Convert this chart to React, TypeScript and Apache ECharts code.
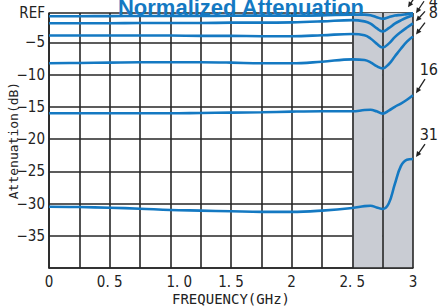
import React, { useEffect, useRef } from 'react';
import * as echarts from 'echarts';

const frequencies = [0, 0.25, 0.5, 0.75, 1.0, 1.25, 1.5, 1.75, 2.0, 2.25, 2.5, 2.6, 2.65, 2.7, 2.75, 2.8, 2.85, 2.9, 2.95, 3.0];

const att1dB = [-0.95, -0.95, -0.93, -0.92, -0.9, -0.9, -0.88, -0.85, -0.85, -0.82, -0.7, -0.7, -0.8, -1.1, -1.35, -1.1, -0.85, -0.75, -0.62, -0.5];
const att2dB = [-2.05, -2.05, -2.05, -2.0, -2.0, -2.0, -1.95, -1.95, -1.9, -1.75, -1.55, -1.75, -2.1, -2.8, -3.3, -2.8, -2.1, -1.6, -1.15, -0.8];
const att4dB = [-3.95, -3.95, -3.95, -3.95, -3.95, -4.0, -4.0, -4.05, -4.05, -3.9, -3.7, -3.9, -4.4, -5.2, -5.8, -5.2, -4.2, -3.4, -2.7, -2.05];
const att8dB = [-8.25, -8.2, -8.15, -8.1, -8.1, -8.1, -8.15, -8.25, -8.25, -8.0, -7.65, -7.75, -8.1, -8.7, -9.05, -8.4, -7.2, -6.0, -4.9, -4.1];
const att16dB = [-16.0, -16.0, -16.0, -16.0, -16.0, -15.95, -15.9, -15.85, -15.75, -15.7, -15.7, -15.5, -15.45, -15.7, -16.05, -15.6, -15.0, -14.5, -13.9, -13.2];
const att31dB = [-30.5, -30.55, -30.65, -30.8, -31.0, -31.1, -31.2, -31.3, -31.3, -31.1, -30.7, -30.4, -30.35, -30.6, -30.85, -30.0, -27.0, -24.2, -23.2, -23.1];

const seriesNames = ['1', '2', '4', '8', '16', '31'];
const seriesValues = [att1dB, att2dB, att4dB, att8dB, att16dB, att31dB];

const xTickValues = [0, 0.5, 1, 1.5, 2, 2.5, 3];
const xTickLabels = ['0', '0. 5', '1. 0', '1. 5', '2', '2. 5', '3'];
const yMin = -40;
const yMax = -0.45;
const yTickValues = [yMax, -5, -10, -15, -20, -25, -30, -35];
const yTickLabels = ['REF', '\u22125', '\u221210', '\u221215', '\u221220', '\u221225', '\u221230', '\u221235'];

// arrow offsets (tip relative to series end, start relative to tip)
const arrowTipOffsets = [[-5, -6], [3, -2], [3, -2], [3, -2], [3, -2], [3, -2]];
const arrowStartOffsets = [[8, -12], [8, -12], [9, -10], [9, -12], [9, -14], [9, -13]];

const BLUE = '#1479c2';
const GRID = '#262626';
const NARROW = "'Liberation Sans Narrow', 'DejaVu Sans Condensed', 'Roboto Condensed', sans-serif";
const MONO = "'DejaVu Sans Mono', 'Liberation Mono', monospace";

export default function App() {
  const ref = useRef<HTMLDivElement>(null);
  useEffect(() => {
    if (!ref.current) return;
    const chart = echarts.init(ref.current, undefined, { renderer: 'svg' });
    const labelBase = { color: '#222', fontSize: 15, fontFamily: NARROW };
    const option: any = {
      animation: false,
      backgroundColor: '#ffffff',
      title: {
        text: 'Normalized Attenuation',
        left: 236,
        textAlign: 'center',
        top: -9,
        textStyle: { color: BLUE, fontSize: 22, fontWeight: 'bold', fontFamily: "'Liberation Sans', Arial, sans-serif" },
      },
      grid: { left: 49, right: 25, top: 13, bottom: 39, containLabel: false, outerBoundsMode: 'none' },
      xAxis: {
        type: 'value',
        min: 0,
        max: 3,
        interval: 0.25,
        name: 'FREQUENCY(GHz)',
        nameLocation: 'middle',
        nameGap: 24,
        nameMoveOverlap: false,
        nameTextStyle: { color: '#222', fontSize: 14, fontFamily: MONO, verticalAlign: 'top' },
        axisLine: { show: true, lineStyle: { color: GRID, width: 1.6 } },
        axisTick: { show: false },
        axisLabel: {
          ...labelBase,
          margin: 6,
          rich: { shift: { ...labelBase, padding: [0, 0, 0, 18] } },
          formatter: (v: number) => {
            const i = xTickValues.findIndex((t) => Math.abs(t - v) < 1e-6);
            if (i < 0) return '';
            return i === 2 ? '{shift|' + xTickLabels[i] + '}' : xTickLabels[i];
          },
        },
        splitLine: { show: true, lineStyle: { color: GRID, width: 1.6 } },
        splitArea: {
          show: true,
          areaStyle: {
            color: [
              'rgba(0,0,0,0)', 'rgba(0,0,0,0)', 'rgba(0,0,0,0)', 'rgba(0,0,0,0)', 'rgba(0,0,0,0)', 'rgba(0,0,0,0)',
              'rgba(0,0,0,0)', 'rgba(0,0,0,0)', 'rgba(0,0,0,0)', 'rgba(0,0,0,0)', '#c9ccd3', '#c9ccd3',
            ],
          },
        },
      },
      yAxis: {
        type: 'value',
        min: yMin,
        max: yMax,
        interval: 5,
        name: 'Attenuation(dB)',
        nameLocation: 'middle',
        nameGap: 29,
        nameMoveOverlap: false,
        nameTextStyle: { color: '#222', fontSize: 13, fontFamily: MONO },
        axisLine: { show: true, lineStyle: { color: GRID, width: 1.6 } },
        axisTick: { show: false },
        axisLabel: {
          ...labelBase,
          margin: 4,
          showMinLabel: false,
          formatter: (v: number) => {
            const i = yTickValues.findIndex((t) => Math.abs(t - v) < 1e-6);
            return i >= 0 ? yTickLabels[i] : '';
          },
        },
        splitLine: { show: true, lineStyle: { color: GRID, width: 1.6 } },
      },
      series: seriesValues.map((vals, k) => ({
        name: seriesNames[k],
        type: 'line',
        smooth: 0.4,
        symbol: 'none',
        lineStyle: { color: BLUE, width: 2.6 },
        data: frequencies.map((f, i) => [f, vals[i]]),
      })),
    };
    chart.setOption(option);

    const graphics: any[] = [];
    seriesValues.forEach((vals, k) => {
      const end = chart.convertToPixel({ gridIndex: 0 }, [frequencies[frequencies.length - 1], vals[vals.length - 1]]) as number[];
      const tip = [end[0] + arrowTipOffsets[k][0], end[1] + arrowTipOffsets[k][1]];
      const start = [tip[0] + arrowStartOffsets[k][0], tip[1] + arrowStartOffsets[k][1]];
      const dx = tip[0] - start[0];
      const dy = tip[1] - start[1];
      const len = Math.sqrt(dx * dx + dy * dy);
      const ux = dx / len;
      const uy = dy / len;
      const L = 5.5;
      const W = 2.6;
      const base = [tip[0] - L * ux, tip[1] - L * uy];
      graphics.push({
        type: 'line',
        shape: { x1: start[0], y1: start[1], x2: base[0] + ux, y2: base[1] + uy },
        style: { stroke: '#222', lineWidth: 1.3 },
        z: 100,
      });
      graphics.push({
        type: 'polygon',
        shape: { points: [tip, [base[0] - W * uy, base[1] + W * ux], [base[0] + W * uy, base[1] - W * ux]] },
        style: { fill: '#222' },
        z: 100,
      });
      graphics.push({
        type: 'text',
        x: start[0] + 13,
        y: start[1] - 2,
        style: {
          text: seriesNames[k],
          fill: '#222',
          fontSize: 16,
          fontFamily: NARROW,
          textAlign: 'right',
          textVerticalAlign: 'bottom',
        },
        z: 100,
      });
    });
    chart.setOption({ graphic: graphics });

    return () => chart.dispose();
  }, []);
  return <div ref={ref} style={{ width: 438, height: 307, position: 'absolute', left: 0, top: 0 }} />;
}
